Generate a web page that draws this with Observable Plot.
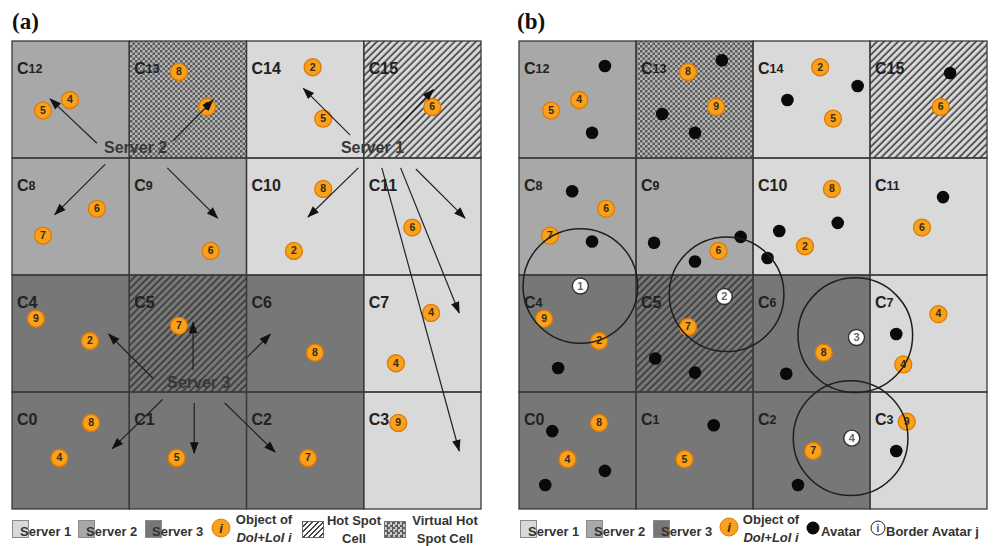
<!DOCTYPE html>
<html>
<head>
<meta charset="utf-8">
<script src="https://cdn.jsdelivr.net/npm/d3@7"></script>
<script src="https://cdn.jsdelivr.net/npm/@observablehq/plot@0.6"></script>
<style>
  body { margin: 0; background: #fff; }
  #root { position: relative; width: 996px; height: 546px; overflow: hidden; font-family: "Liberation Sans", Arial, sans-serif; color: #333; }
  .panel { position: absolute; top: 35px; }
  .title { position: absolute; top: 8px; font: bold 23px "Liberation Serif", "DejaVu Serif", serif; color: #111; line-height: 28px; }
  .lg { position: absolute; white-space: nowrap; font-family: "Liberation Sans", Arial, sans-serif; font-weight: bold; font-size: 13px; line-height: 1; color: #333; }
  .lgt { transform: translateY(-50%); }
  .lg2 { transform: translate(-50%, -50%); text-align: center; line-height: 18px; }
  .sw { position: absolute; box-sizing: border-box; border: 1px solid #8a8a8a; }
  .dot { position: absolute; box-sizing: border-box; border-radius: 50%; transform: translate(-50%, -50%); display: flex; align-items: center; justify-content: center; font-family: "Liberation Sans", Arial, sans-serif; font-style: italic; font-weight: bold; }
</style>
</head>
<body>
<div id="root"></div>
<script>
// ---------------- data ----------------
const cellIds = d3.range(16);                       // C0 .. C15, 4 columns x 4 rows, C0 bottom-left
const cellServer = [3,3,3,1, 3,3,3,1, 2,2,1,1, 2,2,1,1];
const hotSpotCells = [5, 15];
const virtualHotSpotCells = [13];
const smallDigitsA = [12, 13, 8, 9];
const smallDigitsB = [12, 13, 14, 8, 9, 11, 4, 6, 7, 1, 2, 3];

// objects of DoI+LoI i (grid units, cell = 1)
const objectsA = [
  {x:0.26,y:3.41,i:5},{x:0.49,y:3.50,i:4},{x:1.42,y:3.74,i:8},{x:1.66,y:3.44,i:9},
  {x:2.56,y:3.78,i:2},{x:2.65,y:3.34,i:5},{x:3.58,y:3.44,i:6},
  {x:0.72,y:2.57,i:6},{x:0.26,y:2.34,i:7},{x:1.69,y:2.21,i:6},{x:2.65,y:2.74,i:8},{x:2.40,y:2.21,i:2},{x:3.41,y:2.41,i:6},
  {x:0.20,y:1.63,i:9},{x:0.66,y:1.44,i:2},{x:1.42,y:1.57,i:7},{x:2.58,y:1.34,i:8},{x:3.57,y:1.68,i:4},{x:3.27,y:1.25,i:4},
  {x:0.67,y:0.74,i:8},{x:0.40,y:0.44,i:4},{x:1.40,y:0.44,i:5},{x:2.52,y:0.44,i:7},{x:3.29,y:0.74,i:9}
];
const objectsB = [
  {x:0.27,y:3.41,i:5},{x:0.51,y:3.50,i:4},{x:1.44,y:3.74,i:8},{x:1.68,y:3.44,i:9},
  {x:2.57,y:3.78,i:2},{x:2.68,y:3.34,i:5},{x:3.60,y:3.44,i:6},
  {x:0.74,y:2.57,i:6},{x:0.26,y:2.34,i:7},{x:1.70,y:2.21,i:6},{x:2.67,y:2.74,i:8},{x:2.44,y:2.25,i:2},{x:3.44,y:2.41,i:6},
  {x:0.21,y:1.63,i:9},{x:0.68,y:1.44,i:2},{x:1.44,y:1.56,i:7},{x:2.60,y:1.34,i:8},{x:3.58,y:1.67,i:4},{x:3.28,y:1.24,i:4},
  {x:0.68,y:0.74,i:8},{x:0.41,y:0.43,i:4},{x:1.41,y:0.43,i:5},{x:2.51,y:0.50,i:7},{x:3.31,y:0.75,i:9}
];
// avatars (panel b)
const avatarsB = [
  {x:0.73,y:3.79},{x:0.62,y:3.22},{x:1.73,y:3.84},{x:1.22,y:3.38},{x:1.50,y:3.22},
  {x:2.29,y:3.50},{x:2.89,y:3.62},{x:3.68,y:3.73},
  {x:0.45,y:2.72},{x:0.62,y:2.29},{x:1.15,y:2.28},{x:1.50,y:2.12},{x:1.89,y:2.33},
  {x:2.22,y:2.38},{x:2.72,y:2.45},{x:2.12,y:2.15},{x:3.62,y:2.67},
  {x:0.33,y:1.21},{x:1.16,y:1.29},{x:1.50,y:1.17},{x:2.28,y:1.16},{x:3.22,y:1.50},
  {x:0.28,y:0.67},{x:0.73,y:0.33},{x:0.22,y:0.21},{x:1.66,y:0.72},{x:2.38,y:0.21},{x:3.22,y:0.50}
];
// border avatars j and their areas (radius in grid units)
const borderAvatarsB = [
  {x:0.52,y:1.91,j:1},{x:1.75,y:1.82,j:2},{x:2.88,y:1.47,j:3},{x:2.84,y:0.61,j:4}
];
const areasB = [
  {x:0.52,y:1.91,rad:0.49},{x:1.77,y:1.84,rad:0.49},{x:2.87,y:1.49,rad:0.49},{x:2.83,y:0.61,rad:0.49}
];
// arrows (panel a): migrations from each server
const arrowsA = [
  {x1:0.72,y1:3.13,x2:0.32,y2:3.51},{x1:1.37,y1:3.15,x2:1.71,y2:3.50},
  {x1:0.79,y1:2.95,x2:0.36,y2:2.52},{x1:1.32,y1:2.92,x2:1.75,y2:2.49},
  {x1:2.88,y1:3.20,x2:2.48,y2:3.60},{x1:3.28,y1:3.26,x2:3.59,y2:3.59},
  {x1:2.95,y1:2.92,x2:2.52,y2:2.50},{x1:3.15,y1:2.92,x2:3.81,y2:0.50},
  {x1:3.31,y1:2.92,x2:3.81,y2:1.68},{x1:3.44,y1:2.91,x2:3.86,y2:2.49},
  {x1:1.20,y1:1.12,x2:0.82,y2:1.50},{x1:1.54,y1:1.19,x2:1.54,y2:1.60},
  {x1:2.00,y1:1.30,x2:2.20,y2:1.50},{x1:1.28,y1:0.94,x2:0.85,y2:0.52},
  {x1:1.55,y1:0.91,x2:1.55,y2:0.48},{x1:1.81,y1:0.91,x2:2.24,y2:0.49}
];
const serverLabelsA = [
  {x:1.05,y:3.09,label:"Server 2"},{x:3.07,y:3.09,label:"Server 1"},{x:1.59,y:1.08,label:"Server 3"}
];
const panelTitles = ["(a)", "(b)"];
const legendServerLabels = ["Server 1", "Server 2", "Server 3"];
const legendObjectLines = ["Object of", "DoI+LoI i"];
const legendHotLines = ["Hot Spot", "Cell"];
const legendVirtualLines = ["Virtual Hot", "Spot Cell"];
const legendAvatar = "Avatar";
const legendBorder = "Border Avatar j";

// ---------------- styles ----------------
const serverColor = {1: "#d9d9d9", 2: "#a8a8a8", 3: "#777777"};
const orange = "#f7a11c", orangeEdge = "#e07a00";
const FONT = '"Liberation Sans", Arial, sans-serif';

const root = document.getElementById("root");

function headMarker(color, context) {
  const ns = "http://www.w3.org/2000/svg";
  const m = document.createElementNS(ns, "marker");
  m.setAttribute("viewBox", "-12 -5 13 10");
  m.setAttribute("markerWidth", 13);
  m.setAttribute("markerHeight", 10);
  m.setAttribute("markerUnits", "userSpaceOnUse");
  m.setAttribute("refX", 0);
  m.setAttribute("refY", 0);
  m.setAttribute("orient", "auto");
  const p = document.createElementNS(ns, "path");
  p.setAttribute("d", "M-11,-4.3L0.8,0L-11,4.3Z");
  p.setAttribute("fill", "#111");
  p.setAttribute("stroke", "none");
  m.appendChild(p);
  return m;
}

function makePanel({id, objects, arrows, labels, avatars, borders, areas, small, marginLeft, marginRight}) {
  const cells = cellIds.map(k => ({id: k, c: k % 4, r: Math.floor(k / 4), s: cellServer[k]}));
  const rectOpts = {x1: "c", x2: d => d.c + 1, y1: "r", y2: d => d.r + 1};
  const marks = [
    Plot.rect(cells, {...rectOpts, fill: d => serverColor[d.s]}),
    Plot.rect(cells.filter(d => hotSpotCells.includes(d.id)), {...rectOpts, fill: `url(#hatch-${id})`}),
    Plot.rect(cells.filter(d => virtualHotSpotCells.includes(d.id)), {...rectOpts, fill: `url(#check-${id})`}),
    Plot.rect(cells, {...rectOpts, fill: "none", stroke: "#3a3a3a", strokeWidth: 1.3}),
    Plot.text(cells, {x: "c", y: d => d.r + 1, text: () => "C", dx: 4.5, dy: 27, textAnchor: "start",
      fontSize: 16, fontWeight: "bold", fill: "#222"}),
    Plot.text(cells, {x: "c", y: d => d.r + 1, text: d => String(d.id), dx: 16, dy: 27, textAnchor: "start",
      fontSize: d => small.includes(d.id) ? 12.5 : 16, fontWeight: "bold", fill: "#222"}),
    Plot.dot(objects, {x: "x", y: "y", r: 8.5, fill: orange, stroke: orangeEdge, strokeWidth: 1.3}),
    Plot.text(objects, {x: "x", y: "y", text: d => String(d.i), fontSize: 10.5, fontWeight: "bold", fill: "#3a2a12"})
  ];
  if (avatars) marks.push(Plot.dot(avatars, {x: "x", y: "y", r: 6.3, fill: "#0a0a0a"}));
  if (borders) {
    marks.push(Plot.dot(borders, {x: "x", y: "y", r: 8, fill: "#fff", stroke: "#333", strokeWidth: 1.4}));
    marks.push(Plot.text(borders, {x: "x", y: "y", text: d => String(d.j), fontSize: 11, fontWeight: "bold", fill: "#666"}));
  }
  if (areas) marks.push(Plot.dot(areas, {x: "x", y: "y", r: "rad", fill: "none", stroke: "#1e1e1e", strokeWidth: 1.5}));
  if (labels) marks.push(Plot.text(labels, {x: "x", y: "y", text: "label", fontSize: 16, fontWeight: "bold", fill: "#383838"}));
  if (arrows) marks.push(Plot.link(arrows, {x1: "x1", y1: "y1", x2: "x2", y2: "y2", stroke: "#222", strokeWidth: 1.2, markerEnd: headMarker}));

  const svg = Plot.plot({
    width: 496, height: 480, marginTop: 6, marginBottom: 6, marginLeft, marginRight,
    x: {domain: [0, 4], axis: null},
    y: {domain: [0, 4], axis: null},
    r: {type: "linear", domain: [0, 1], range: [0, 117]},
    color: {type: "identity"},
    style: {background: "transparent", overflow: "visible", fontFamily: FONT},
    marks
  });
  const defs = document.createElementNS("http://www.w3.org/2000/svg", "defs");
  defs.innerHTML =
    `<pattern id="hatch-${id}" patternUnits="userSpaceOnUse" width="5" height="5" patternTransform="rotate(45)">` +
    `<line x1="1.2" y1="-1" x2="1.2" y2="6" stroke="#333" stroke-width="1.5"/></pattern>` +
    `<pattern id="check-${id}" patternUnits="userSpaceOnUse" width="5" height="5">` +
    `<rect width="5" height="5" fill="#b8b8b8"/><rect width="2.5" height="2.5" fill="#5a5a5a"/>` +
    `<rect x="2.5" y="2.5" width="2.5" height="2.5" fill="#5a5a5a"/></pattern>`;
  svg.insertBefore(defs, svg.firstChild);
  return svg;
}

function place(el, left, cls) { el.classList.add(cls); el.style.left = left + "px"; root.appendChild(el); return el; }

// panels
const svgA = makePanel({id: "a", objects: objectsA, arrows: arrowsA, labels: serverLabelsA, small: smallDigitsA, marginLeft: 12, marginRight: 15});
place(svgA, 0, "panel");
const svgB = makePanel({id: "b", objects: objectsB, avatars: avatarsB, borders: borderAvatarsB, areas: areasB, small: smallDigitsB, marginLeft: 19, marginRight: 9});
place(svgB, 500, "panel");

// titles
[[panelTitles[0], 12], [panelTitles[1], 517]].forEach(([t, x]) => {
  const d = document.createElement("div"); d.textContent = t; place(d, x, "title");
});

// legend helpers
function text(str, left, cy, extra) {
  const d = document.createElement("div");
  d.className = "lg lgt"; d.textContent = str;
  d.style.left = left + "px"; d.style.top = cy + "px";
  if (extra) Object.assign(d.style, extra);
  root.appendChild(d);
}
function text2(lines, cx, cy, italicSecond) {
  const d = document.createElement("div");
  d.className = "lg lg2"; d.style.left = cx + "px"; d.style.top = cy + "px";
  lines.forEach((l, k) => {
    const s = document.createElement("div"); s.textContent = l;
    if (k === 1 && italicSecond) s.style.fontStyle = "italic";
    d.appendChild(s);
  });
  root.appendChild(d);
}
function swatch(left, top, w, h, style) {
  const d = document.createElement("div"); d.className = "sw";
  Object.assign(d.style, {left: left + "px", top: top + "px", width: w + "px", height: h + "px"}, style);
  root.appendChild(d);
}
function roundel(cx, cy, size, style, label, fontSize) {
  const d = document.createElement("div"); d.className = "dot";
  Object.assign(d.style, {left: cx + "px", top: cy + "px", width: size + "px", height: size + "px", fontSize: fontSize + "px"}, style);
  d.textContent = label || "";
  root.appendChild(d);
}
const hatchCSS = {background: "repeating-linear-gradient(135deg, #fff 0 2.3px, #444 2.3px 3.8px)", borderColor: "#666"};
const checkCSS = {backgroundImage: "conic-gradient(#5c5c5c 25%, #c8c8c8 0 50%, #5c5c5c 0 75%, #c8c8c8 0)", backgroundSize: "5px 5px", borderColor: "#777"};
const LY = 531;

// legend (a)
[[12, 20], [78, 86], [145, 152]].forEach(([sx, tx], k) => {
  swatch(sx, 520, 17, 18, {background: serverColor[k + 1]});
  text(legendServerLabels[k], tx, LY);
});
roundel(221, 528, 19, {background: orange, border: `1px solid ${orangeEdge}`, color: "#3a2a12"}, "i", 13);
text2(legendObjectLines, 264, 529, true);
swatch(302, 521, 22, 17, hatchCSS);
text2(legendHotLines, 354, 530, false);
swatch(384, 521, 22, 17, checkCSS);
text2(legendVirtualLines, 445, 530, false);

// legend (b)
[[520, 528], [586, 594], [653, 661]].forEach(([sx, tx], k) => {
  swatch(sx, 520, 17, 18, {background: serverColor[k + 1]});
  text(legendServerLabels[k], tx, LY);
});
roundel(729, 527, 19, {background: orange, border: `1px solid ${orangeEdge}`, color: "#3a2a12"}, "i", 13);
text2(legendObjectLines, 771, 529, true);
roundel(813, 528, 13, {background: "#0a0a0a"}, "", 10);
text(legendAvatar, 821, LY);
roundel(878, 528, 15, {background: "#fff", border: "1.4px solid #222", color: "#444", fontStyle: "normal"}, "i", 10);
text(legendBorder, 886, LY);
</script>
</body>
</html>
